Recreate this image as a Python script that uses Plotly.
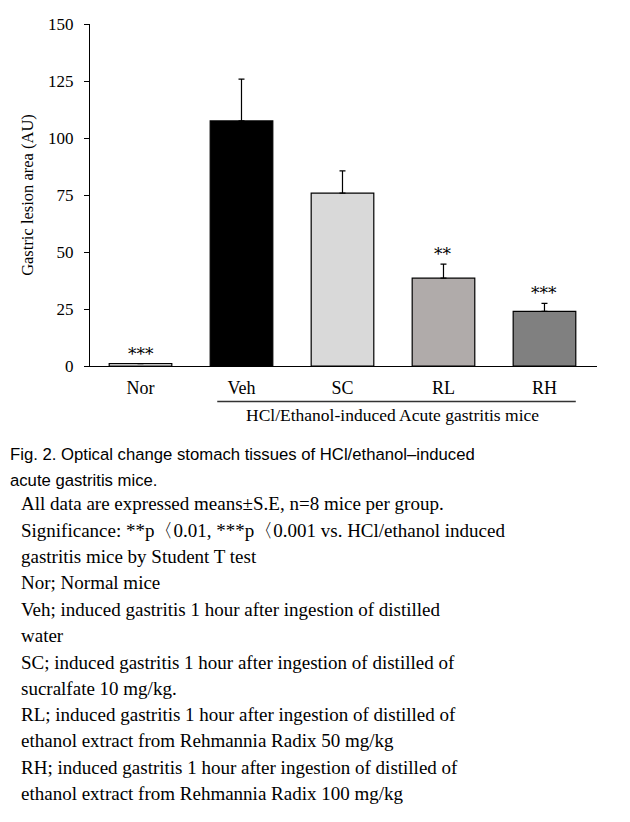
import plotly.graph_objects as go

# ---- data ----
groups = ["Nor", "Veh", "SC", "RL", "RH"]
lesion_area = [1.0, 107.5, 75.8, 38.5, 24.0]
lesion_se = [0.0, 18.3, 9.8, 6.2, 3.5]
significance = ["***", "", "", "**", "***"]
bar_colors = ["#ffffff", "#000000", "#d9d9d9", "#b0abaa", "#808080"]
y_ticks = [0, 25, 50, 75, 100, 125, 150]
y_title = "Gastric lesion area (AU)"
group_label = "HCl/Ethanol-induced Acute gastritis mice"
caption_title = [
    "Fig. 2. Optical change stomach tissues of HCl/ethanol\u2013induced",
    "acute gastritis mice.",
]
caption_body = [
    "All data are expressed means\u00b1S.E, n=8 mice per group.",
    "Significance: **p\u30080.01, ***p\u30080.001 vs. HCl/ethanol induced",
    "gastritis mice by Student T test",
    "Nor; Normal mice",
    "Veh; induced gastritis 1 hour after ingestion of distilled",
    "water",
    "SC; induced gastritis 1 hour after ingestion of distilled of",
    "sucralfate 10 mg/kg.",
    "RL; induced gastritis 1 hour after ingestion of distilled of",
    "ethanol extract from Rehmannia Radix 50 mg/kg",
    "RH; induced gastritis 1 hour after ingestion of distilled of",
    "ethanol extract from Rehmannia Radix 100 mg/kg",
]

# ---- layout geometry (figure pixels; page body adds an 8px offset) ----
OFF = 8
W, H = 630 - OFF, 822 - OFF
L, T = 90 - OFF, 24 - OFF
R = W - (597 - OFF)
B = H - (366 - OFF)
plot_w = W - L - R
plot_h = H - T - B


def px_x(sx):
    return (sx - OFF - L) / plot_w


def px_y(sy):
    return (H - B - (sy - OFF)) / plot_h


SERIF = "Liberation Serif, Times New Roman, serif"
SANS = "Liberation Sans, Arial, sans-serif"
STAR = "DejaVu Serif, serif"

fig = go.Figure()
fig.add_trace(go.Bar(
    x=groups,
    y=lesion_area,
    width=0.62,
    marker=dict(color=bar_colors, line=dict(color="#000000", width=1.2)),
    error_y=dict(type="data", symmetric=False, array=lesion_se,
                 arrayminus=[0] * len(lesion_se),
                 color="#000000", thickness=1.2, width=3),
    showlegend=False,
))

annotations = []
for g, v, e, s in zip(groups, lesion_area, lesion_se, significance):
    if s:
        annotations.append(dict(
            x=g, y=v + e, xref="x", yref="y", text=s, showarrow=False,
            yanchor="bottom", yshift=-2,
            font=dict(family=STAR, size=17, color="#000000"),
        ))

annotations.append(dict(
    x=2.5, y=px_y(415), xref="x", yref="paper", text=group_label,
    showarrow=False, xanchor="center", yanchor="middle",
    font=dict(family=SERIF, size=17.5, color="#000000"),
))

caption_title_y = [454, 480]
for txt, sy in zip(caption_title, caption_title_y):
    annotations.append(dict(
        x=px_x(8), y=px_y(sy), xref="paper", yref="paper", text=txt,
        showarrow=False, xanchor="left", yanchor="middle",
        font=dict(family=SANS, size=16.7, color="#000000"),
    ))

body_y = [503, 530, 556, 582, 609, 635, 662, 688, 714, 740, 767, 793]
for txt, sy in zip(caption_body, body_y):
    annotations.append(dict(
        x=px_x(19), y=px_y(sy), xref="paper", yref="paper", text=txt,
        showarrow=False, xanchor="left", yanchor="middle",
        font=dict(family=SERIF, size=19, color="#000000"),
    ))

shapes = [dict(
    type="line", xref="x", yref="paper",
    x0=0.76, x1=4.31, y0=px_y(401.5), y1=px_y(401.5),
    line=dict(color="#333333", width=1.5),
)]

fig.update_layout(
    width=W, height=H,
    margin=dict(l=L, r=R, t=T, b=B, autoexpand=False),
    paper_bgcolor="#ffffff", plot_bgcolor="#ffffff",
    font=dict(family=SERIF, color="#000000"),
    annotations=annotations,
    shapes=shapes,
)
fig.update_xaxes(
    range=[-0.5, 4.52], showline=True, linecolor="#000000", linewidth=1.2,
    ticks="", showgrid=False, zeroline=False,
    tickfont=dict(family=SERIF, size=18, color="#000000"),
    ticklabelstandoff=5,
)
fig.update_yaxes(
    range=[0, 150], tickvals=y_ticks, showline=True, linecolor="#000000",
    linewidth=1.2, ticks="outside", ticklen=5, tickwidth=1.2,
    tickcolor="#000000", showgrid=False, zeroline=False,
    tickfont=dict(family=SERIF, size=17, color="#000000"),
    ticklabelstandoff=7,
    title=dict(text=y_title, font=dict(family=SERIF, size=16.5, color="#000000"),
               standoff=10),
)

fig.write_html("out.html")
